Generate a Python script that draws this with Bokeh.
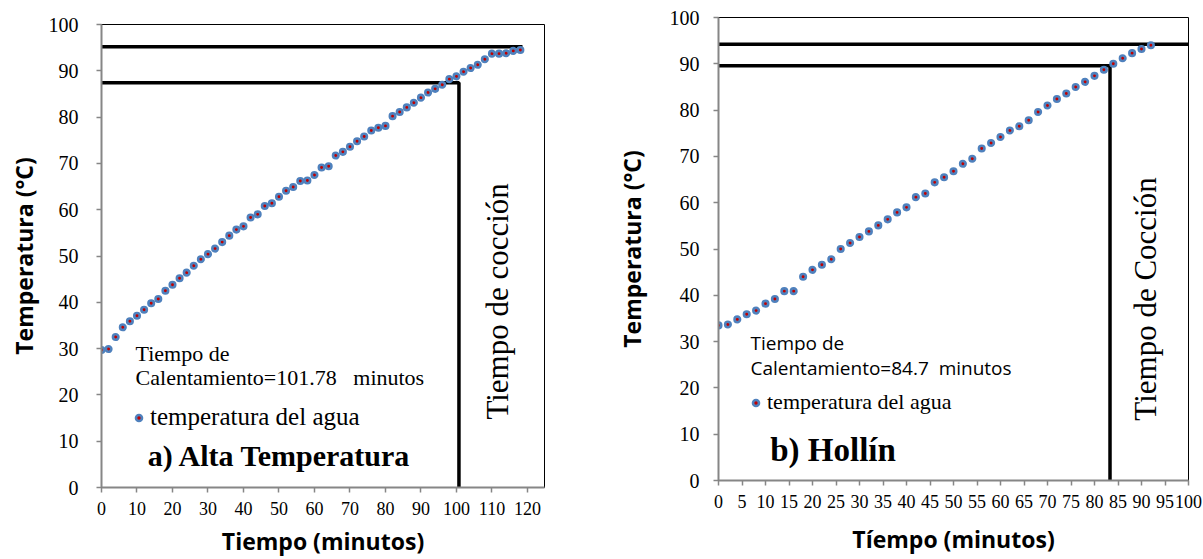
from math import pi
from bokeh.plotting import figure
from bokeh.models import Range1d, Label, Legend, LegendItem, FixedTicker
from bokeh.layouts import row, column
from bokeh.embed import file_html
from bokeh.resources import INLINE

# ---------------- data: panel a) Alta Temperatura ----------------
a_time = [0, 2, 4, 6, 8, 10, 12, 14, 16, 18, 20, 22, 24, 26, 28, 30,
          32, 34, 36, 38, 40, 42, 44, 46, 48, 50, 52, 54, 56, 58, 60,
          62, 64, 66, 68, 70, 72, 74, 76, 78, 80, 82, 84, 86, 88, 90,
          92, 94, 96, 98, 100, 102, 104, 106, 108, 110, 112, 114, 116, 118]
a_temp = [29.7, 29.9, 32.5, 34.6, 35.9, 37.1, 38.4, 39.8, 40.7, 42.5, 43.8, 45.2, 46.4, 47.9, 49.3, 50.4,
          51.6, 53.0, 54.4, 55.7, 56.4, 58.3, 59.0, 60.8, 61.4, 62.8, 64.1, 64.9, 66.2, 66.3, 67.5,
          69.1, 69.4, 71.7, 72.5, 73.6, 74.8, 75.8, 77.1, 77.7, 78.1, 80.2, 81.1, 82.1, 83.1, 84.2,
          85.3, 86.1, 87.0, 88.2, 88.8, 89.8, 90.6, 91.3, 92.5, 93.7, 93.7, 93.8, 94.3, 94.5]
a_cook_temp = 95.2      # horizontal line "tiempo de cocción"
a_cook_end = 118.6
a_heat_temp = 87.4      # heating line
a_heat_time = 100.7
a_xmax = 124.8
a_xticks = [0, 10, 20, 30, 40, 50, 60, 70, 80, 90, 100, 110, 120]

# ---------------- data: panel b) Hollín ----------------
b_time = [0, 2, 4, 6, 8, 10, 12, 14, 16, 18, 20, 22, 24, 26, 28, 30,
          32, 34, 36, 38, 40, 42, 44, 46, 48, 50, 52, 54, 56, 58, 60,
          62, 64, 66, 68, 70, 72, 74, 76, 78, 80, 82, 84, 86, 88, 90, 92]
b_temp = [33.5, 33.7, 34.8, 35.9, 36.7, 38.2, 39.2, 40.9, 40.9, 44.0, 45.5, 46.6, 47.8, 50.0, 51.3, 52.6,
          53.8, 55.1, 56.4, 57.9, 59.0, 61.2, 62.0, 64.4, 65.5, 66.8, 68.4, 69.5, 71.7, 72.9, 74.2,
          75.6, 76.5, 77.8, 79.6, 81.0, 82.4, 83.6, 85.0, 86.1, 87.4, 88.7, 90.0, 91.2, 92.3, 93.2, 94.0]
b_cook_temp = 94.2
b_cook_end = 100.6
b_heat_temp = 89.6
b_heat_time = 83.3
b_xmax = 100
b_xticks = [0, 5, 10, 15, 20, 25, 30, 35, 40, 45, 50, 55, 60, 65, 70, 75, 80, 85, 90, 95, 100]

y_ticks = [0, 10, 20, 30, 40, 50, 60, 70, 80, 90, 100]

SERIF = "Liberation Serif"
SANS = "Open Sans"
AXIS_GRAY = "#868686"


def make_panel(time, temp, cook_temp, cook_end, heat_temp, heat_time, xmax, xticks,
               frame_w, frame_h, bl, br, bt, bb, xlabel, ylab_standoff, ylabel_standoff,
               xlabel_standoff):
    p = figure(frame_width=frame_w, frame_height=frame_h, title=None,
               x_range=Range1d(0, xmax), y_range=Range1d(0, 100),
               output_backend="svg", toolbar_location=None,
               min_border_left=bl, min_border_right=br,
               min_border_top=bt, min_border_bottom=bb)
    p.grid.visible = False
    p.outline_line_color = "black"
    p.outline_line_width = 1
    p.background_fill_color = "white"
    p.border_fill_color = "white"

    p.xaxis.ticker = FixedTicker(ticks=xticks)
    p.yaxis.ticker = FixedTicker(ticks=y_ticks)
    for ax in (p.xaxis[0], p.yaxis[0]):
        ax.axis_line_color = AXIS_GRAY
        ax.axis_line_width = 2
        ax.major_tick_line_color = AXIS_GRAY
        ax.major_tick_line_width = 1.5
        ax.major_tick_out = 5
        ax.major_tick_in = 0
        ax.minor_tick_line_color = None
        ax.major_label_text_font = SERIF
        ax.major_label_text_color = "black"
        ax.axis_label_text_font = SANS
        ax.axis_label_text_font_style = "bold"
        ax.axis_label_text_font_size = "23px"
        ax.axis_label_text_color = "black"
    p.xaxis.major_label_text_font_size = "18px"
    p.yaxis.major_label_text_font_size = "20px"
    p.xaxis.major_label_standoff = 9
    p.yaxis.major_label_standoff = ylab_standoff
    p.xaxis.axis_label = xlabel
    p.yaxis.axis_label = "Temperatura (°C)"
    p.xaxis.axis_label_standoff = xlabel_standoff
    p.yaxis.axis_label_standoff = ylabel_standoff

    # reference lines
    p.line(x=[0, cook_end], y=[cook_temp, cook_temp], line_color="black", line_width=3.5)
    p.line(x=[0, heat_time, heat_time], y=[heat_temp, heat_temp, 0], line_color="black", line_width=3.5)

    # data
    pts = p.scatter(x=time, y=temp, size=5.5, fill_color="#C00000",
                    line_color="#4F81BD", line_width=2.6)
    return p, pts


# ---------------- panel a ----------------
pa, pts_a = make_panel(a_time, a_temp, a_cook_temp, a_cook_end, a_heat_temp, a_heat_time,
                       a_xmax, a_xticks, 443, 463, 101, 68, 24, 71,
                       "Tiempo (minutos)", 18, 6, 7)
pa.add_layout(Label(x=9.6, y=28.9, text="Tiempo de", text_font=SERIF, text_color="black",
                    text_font_size="22px", text_baseline="middle"))
pa.add_layout(Label(x=9.6, y=23.8, text="Calentamiento=101.78\u00a0\u00a0 minutos", text_font=SERIF,
                    text_color="black", text_font_size="22px", text_baseline="middle"))
pa.add_layout(Label(x=13, y=6.9, text="a) Alta Temperatura", text_font=SERIF, text_color="black",
                    text_font_size="30px", text_font_style="bold", text_baseline="middle"))
pa.add_layout(Label(x=111.5, y=40.2, text="Tiempo de cocción", text_font=SERIF, text_color="black",
                    text_font_size="31px", angle=pi / 2, text_align="center",
                    text_baseline="middle"))
leg_a = Legend(items=[LegendItem(label="temperatura del agua", renderers=[pts_a])],
               location=(30, 56), padding=0, margin=0, border_line_color=None,
               background_fill_alpha=0, glyph_width=15, glyph_height=15,
               label_standoff=4, label_text_font=SERIF, label_text_color="black",
               label_text_font_size="25px")
pa.add_layout(leg_a)

# ---------------- panel b ----------------
pb, pts_b = make_panel(b_time, b_temp, b_cook_temp, b_cook_end, b_heat_temp, b_heat_time,
                       b_xmax, b_xticks, 470, 463, 100, 16, 17, 79,
                       "Tíempo (minutos)", 14, 19, 12)
pb.add_layout(Label(x=6.8, y=29.8, text="Tiempo de", text_font=SANS, text_color="black",
                    text_font_size="19px", text_baseline="middle"))
pb.add_layout(Label(x=6.8, y=24.2, text="Calentamiento=84.7\u00a0 minutos", text_font=SANS,
                    text_color="black", text_font_size="19px", text_baseline="middle"))
pb.add_layout(Label(x=11.0, y=6.5, text="b) Hollín", text_font=SERIF, text_color="black",
                    text_font_size="33px", text_font_style="bold", text_baseline="middle"))
pb.add_layout(Label(x=90.8, y=39.2, text="Tiempo de Cocción", text_font=SERIF, text_color="black",
                    text_font_size="31px", angle=pi / 2, text_align="center",
                    text_baseline="middle"))
leg_b = Legend(items=[LegendItem(label="temperatura del agua", renderers=[pts_b])],
               location=(30, 65), padding=0, margin=0, border_line_color=None,
               background_fill_alpha=0, glyph_width=15, glyph_height=15,
               label_standoff=4, label_text_font=SERIF, label_text_color="black",
               label_text_font_size="22px")
pb.add_layout(leg_b)

layout = row(column(pa), column(pb), spacing=0)
open("out.html", "w").write(file_html(layout, INLINE))
